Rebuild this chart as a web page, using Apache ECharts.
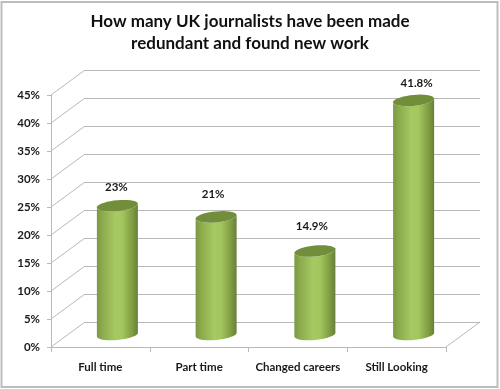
<!DOCTYPE html>
<html><head><meta charset="utf-8">
<style>html,body{margin:0;padding:0;background:#fff}#c{width:500px;height:389px}</style>
<script src="https://cdn.jsdelivr.net/npm/echarts@6/dist/echarts.min.js"></script>
</head><body><div id="c"></div>
<script>
const categories = ['Full time', 'Part time', 'Changed careers', 'Still Looking'];
const values = [23, 21, 14.9, 41.8];
const valueLabels = ['23%', '21%', '14.9%', '41.8%'];
const yMax = 45, yStep = 5;
const yTicks = [0, 5, 10, 15, 20, 25, 30, 35, 40, 45];

const FONT = 'Lato, "Open Sans", sans-serif';
const DX = 34, DY = -25;        // oblique depth of the 3-D box
const RX = 20.5, RY = 5.5, SHEAR = -0.09;
const labelRise = [18.5, 22.5, 25, 17];
const labelShift = [-1, -3, -3, 3];
const GRID = '#b9b9b9';

function ellipsePts(cx, cy, from, to) {
  const pts = [], n = 36;
  for (let i = 0; i <= n; i++) {
    const t = from + (to - from) * i / n;
    pts.push([cx + RX * Math.cos(t), cy + RY * Math.sin(t) + SHEAR * RX * Math.cos(t)]);
  }
  return pts;
}
const bodyFill = new echarts.graphic.LinearGradient(0, 0, 1, 0, [
  { offset: 0, color: '#7b9840' }, { offset: 0.12, color: '#8aa94c' },
  { offset: 0.45, color: '#a6c961' }, { offset: 0.62, color: '#a3c65f' },
  { offset: 0.86, color: '#809d42' }, { offset: 1, color: '#66803a' }
]);

const chart = echarts.init(document.getElementById('c'), null, { renderer: 'canvas' });
chart.setOption({
  animation: false,
  backgroundColor: '#fff',
  title: {
    text: 'How many UK journalists have been made\nredundant and found new work',
    left: 'center', top: 5,
    textStyle: { fontFamily: FONT, fontSize: 17, fontWeight: 'bold', color: '#111', lineHeight: 22.5 }
  },
  graphic: [{
    type: 'rect', z: 100, silent: true,
    shape: { x: 1.5, y: 2, width: 496, height: 385 },
    style: { fill: 'none', stroke: '#bdbdbd', lineWidth: 2 }
  }],
  grid: [
    { left: 51, top: 95, width: 395, height: 252 },
    { left: 51 + DX, top: 95 + DY, width: 395, height: 252 }
  ],
  xAxis: [
    {
      type: 'category', gridIndex: 0, data: categories,
      axisLine: { lineStyle: { color: GRID, width: 1 } },
      axisTick: { show: true, alignWithLabel: false, length: 5, lineStyle: { color: GRID } },
      axisLabel: { interval: 0, margin: 14, fontFamily: FONT, fontSize: 11.5, fontWeight: 'bold', color: '#1a1a1a' },
      splitLine: { show: false }
    },
    { type: 'category', gridIndex: 1, data: categories, show: false }
  ],
  yAxis: [
    {
      type: 'value', gridIndex: 0, min: 0, max: yMax, interval: yStep,
      axisLine: { show: true, lineStyle: { color: GRID, width: 1 } },
      axisTick: { show: true, length: 4, lineStyle: { color: GRID } },
      axisLabel: { margin: 11, padding: [3, 0, 0, 0], formatter: '{value}%', fontFamily: FONT, fontSize: 11.5, fontWeight: 'bold', color: '#1a1a1a' },
      splitLine: { show: false }
    },
    {
      type: 'value', gridIndex: 1, min: 0, max: yMax, interval: yStep,
      axisLine: { show: false }, axisTick: { show: false }, axisLabel: { show: false },
      splitLine: { show: true, lineStyle: { color: GRID, width: 1 } }
    }
  ],
  series: [
    {
      type: 'custom', xAxisIndex: 0, yAxisIndex: 0, z: 2, clip: false, silent: true,
      data: yTicks.map(v => [0, v]),
      renderItem(params, api) {
        const p = api.coord([0, api.value(1)]);
        const x0 = api.coord([0, 0])[0] - api.size([1, 0])[0] / 2;
        return {
          type: 'line',
          shape: { x1: x0, y1: p[1], x2: x0 + DX, y2: p[1] + DY },
          style: { stroke: GRID, lineWidth: 1 }
        };
      }
    },
    {
      type: 'custom', xAxisIndex: 0, yAxisIndex: 0, z: 2, clip: false, silent: true,
      data: [[categories.length - 1, 0]],
      renderItem(params, api) {
        const p = api.coord([api.value(0), api.value(1)]);
        const x0 = p[0] + api.size([1, 0])[0] / 2;
        return {
          type: 'line',
          shape: { x1: x0, y1: p[1], x2: x0 + DX, y2: p[1] + DY },
          style: { stroke: GRID, lineWidth: 1 }
        };
      }
    },
    {
      type: 'custom', xAxisIndex: 0, yAxisIndex: 0, z: 5, clip: false, silent: true,
      data: values.map((v, i) => [i, v]),
      renderItem(params, api) {
        const i = api.value(0);
        const top = api.coord([i, api.value(1)]);
        const base = api.coord([i, 0]);
        const cx = top[0] + DX / 2;
        const ty = top[1] + DY / 2, by = base[1] + DY / 2;
        const body = ellipsePts(cx, ty, Math.PI, 0).concat(ellipsePts(cx, by, 0, Math.PI));
        return {
          type: 'group',
          children: [
            { type: 'polygon', shape: { points: body }, style: { fill: bodyFill } },
            { type: 'polygon', shape: { points: ellipsePts(cx, ty, 0, Math.PI * 2) }, style: { fill: '#728e3b' } },
            {
              type: 'text',
              style: {
                x: cx + labelShift[i], y: ty - labelRise[i], text: valueLabels[i],
                align: 'center', verticalAlign: 'middle',
                font: 'bold 11.5px ' + FONT, fill: '#1a1a1a'
              }
            }
          ]
        };
      }
    }
  ]
});
</script></body></html>
